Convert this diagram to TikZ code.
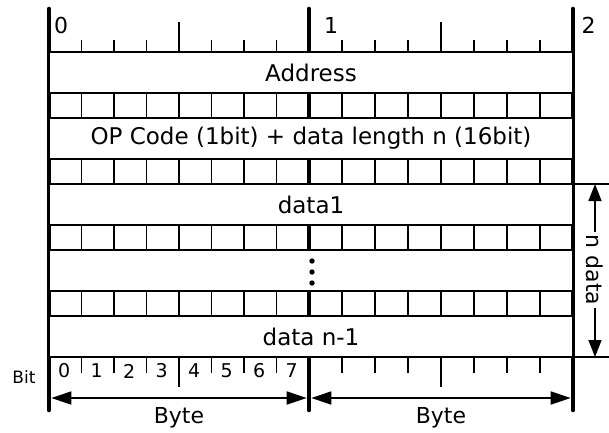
\documentclass[tikz,border=0pt]{standalone}
\usepackage{fontspec}
\setmainfont{DejaVu Sans}
\usetikzlibrary{arrows.meta}
\begin{document}
\begin{tikzpicture}[x=1pt,y=-1pt,
  thickline/.style={line width=4.6pt,line cap=round},
  thinline/.style={line width=1.3pt},
  nibline/.style={line width=2pt},
  field/.style={draw,line width=1.3pt,fill=white,minimum width=524pt,minimum height=41pt,inner sep=0pt,outer sep=0pt,font=\fontsize{23}{27}\selectfont},
  toplabel/.style={inner sep=0pt,font=\fontsize{22}{26}\selectfont},
  bitnum/.style={inner sep=0pt,font=\fontsize{19}{22}\selectfont},
  bitlabel/.style={inner sep=0pt,font=\fontsize{17}{20}\selectfont},
  bytelabel/.style={inner sep=0pt,font=\fontsize{22}{26}\selectfont},
  dimarrow/.style={line width=1.6pt,{Triangle[length=20pt,width=13pt]}-{Triangle[length=20pt,width=13pt]},shorten <=2.3pt,shorten >=2.3pt},
  ndarrow/.style={line width=1.6pt,-{Triangle[length=17pt,width=13pt]}},
  ]
\useasboundingbox (0,0) rectangle (609,432);

% thick byte boundary lines
\foreach \xx in {49,309,573}
  \draw[thickline] (\xx,9) -- (\xx,410);

% grid rows
\foreach \ya/\yb in {93/118,159/184,225/250,291/316}{
  \foreach \i in {1,...,15}{
    \pgfmathsetmacro{\xx}{\i<=8 ? 49+32.5*\i : 309+33*(\i-8)}
    \ifnum\i=4 \draw[nibline] (\xx,\ya) -- (\xx,\yb);
    \else\ifnum\i=12 \draw[nibline] (\xx,\ya) -- (\xx,\yb);
    \else\ifnum\i=8 \else \draw[thinline] (\xx,\ya) -- (\xx,\yb); \fi\fi\fi
  }
}

% rulers
\foreach \i in {1,...,15}{
  \pgfmathsetmacro{\xx}{\i<=8 ? 49+32.5*\i : 309+33*(\i-8)}
  \ifnum\i=4 \draw[nibline] (\xx,22) -- (\xx,52); \draw[nibline] (\xx,357) -- (\xx,387);
  \else\ifnum\i=12 \draw[nibline] (\xx,22) -- (\xx,52); \draw[nibline] (\xx,357) -- (\xx,387);
  \else\ifnum\i=8 \else \draw[thinline] (\xx,40) -- (\xx,52); \draw[thinline] (\xx,357) -- (\xx,373); \fi\fi\fi
}

% fields
\node[field] (addr) at (311,72.5) {Address};
\node[field] (op) at (311,138.5) {OP Code (1bit) + data length n (16bit)};
\node[field] (d1) at (311,204.5) {data1};
\node[field] (dots) at (311,270.5) {};
\node[field] (dn) at (311,336.5) {data n-1};
\fill (312,261) circle (2.7) (312,272) circle (2.7) (312,283) circle (2.7);

% top labels
\node[toplabel] (l0) at (61,25.5) {0};
\node[toplabel] (l1) at (331,25.5) {1};
\node[toplabel] (l2) at (588.5,25.5) {2};

% bit numbers
\node[bitlabel] (bitlab) at (24,377) {Bit};
\foreach \i in {0,...,7}{
  \pgfmathsetmacro{\xx}{49+32.5*(\i+0.5)-1}
  \node[bitnum] (bn\i) at (\xx,371) {\i};
}

% byte arrows
\coordinate (ba) at (49,398);
\coordinate (bm) at (309,398);
\coordinate (bb) at (573,398);
\draw[dimarrow] (ba) -- (bm);
\draw[dimarrow] (bm) -- (bb);
\node[bytelabel] (by1) at (179,418) {Byte};
\node[bytelabel] (by2) at (441,418) {Byte};

% n data
\coordinate (tl) at (573,184);
\coordinate (tr) at (609,184);
\coordinate (bl) at (573,357);
\coordinate (br) at (609,357);
\draw[thinline] (tl) -- (tr);
\draw[thinline] (bl) -- (br);
\coordinate (nt) at (595,184);
\coordinate (nb) at (595,357);
\node[bytelabel,rotate=-90,inner sep=3pt] (nd) at (595,270) {n data};
\draw[ndarrow] (nd) -- (nt);
\draw[ndarrow] (nd) -- (nb);
\end{tikzpicture}
\end{document}
